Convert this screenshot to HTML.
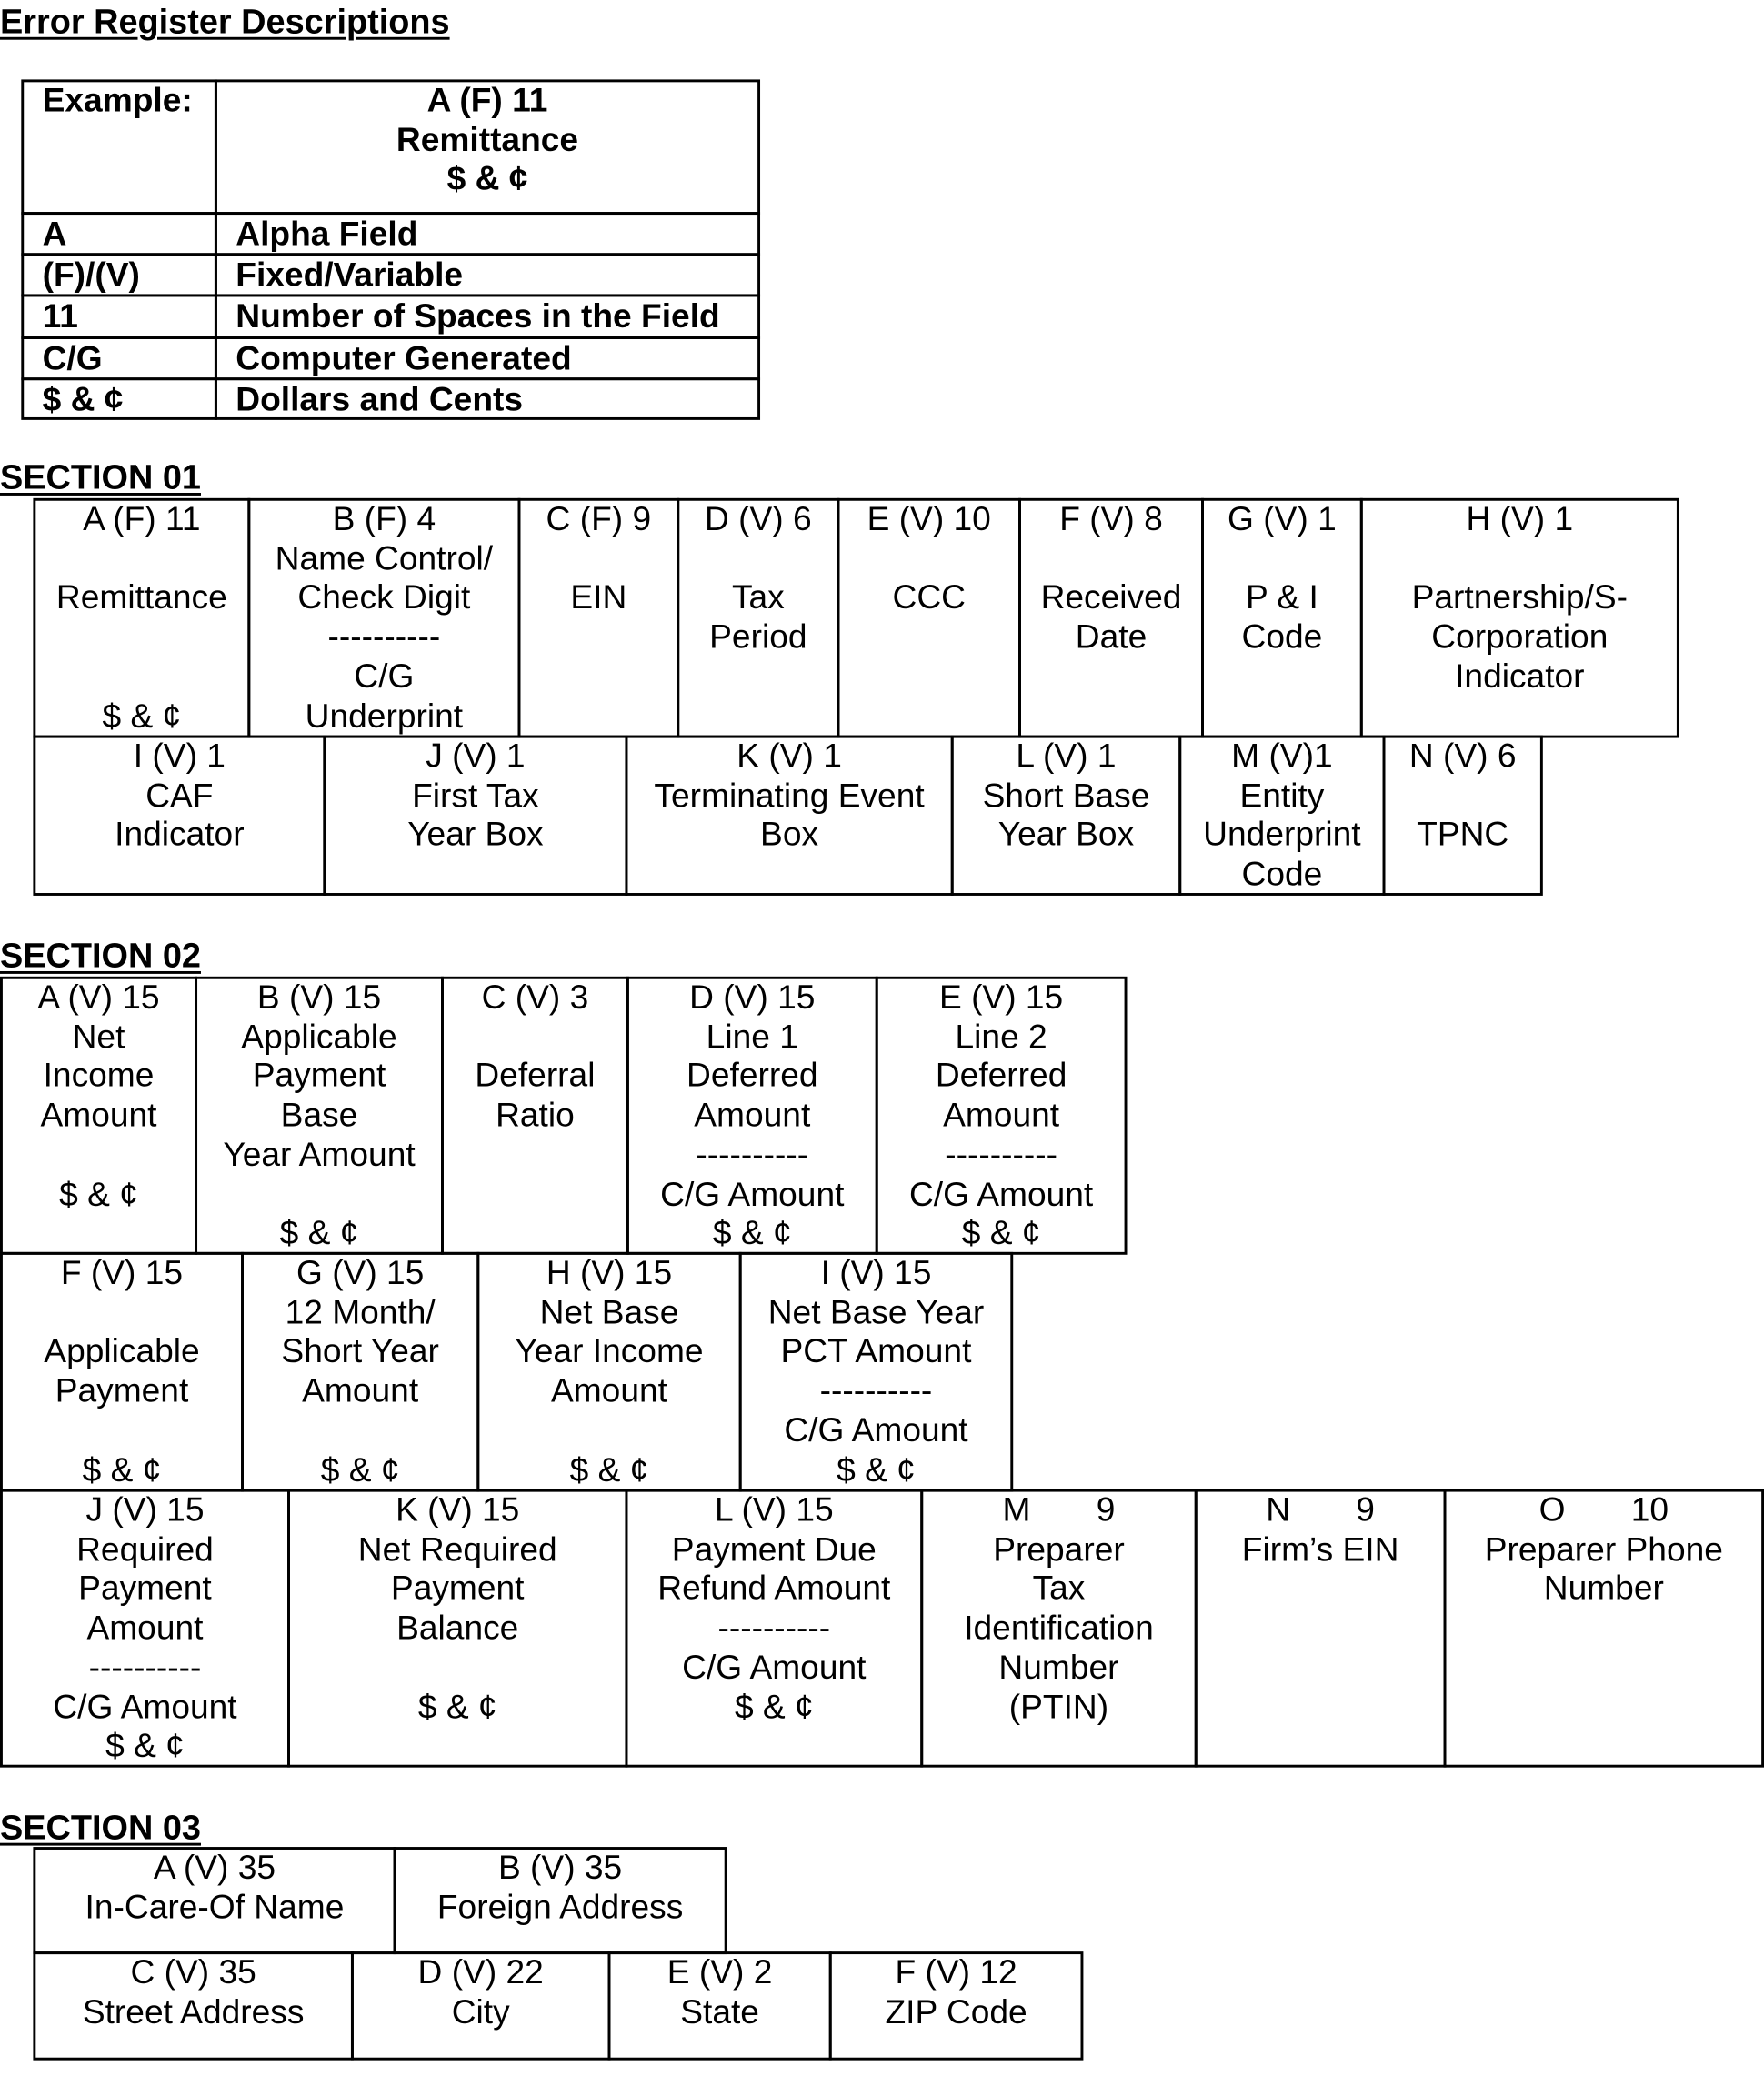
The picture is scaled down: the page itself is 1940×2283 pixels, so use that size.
<!DOCTYPE html>
<html><head><meta charset="utf-8"><style>
html,body{margin:0;padding:0;background:#fff;}
body{width:1940px;height:2283px;overflow:hidden;position:relative;}
#w{position:absolute;left:0;top:0;width:1332px;height:1567px;transform:scale(1.4565,1.457);transform-origin:0 0;font-family:"Liberation Sans",Arial,sans-serif;color:#000;}
.c{position:absolute;box-sizing:border-box;border:2px solid #000;text-align:center;font-size:25.5px;line-height:29.7px;white-space:nowrap;overflow:visible;padding-top:0;}
.h{position:absolute;left:0;font-weight:bold;font-size:26px;line-height:26px;text-decoration:underline;text-decoration-thickness:2px;text-underline-offset:3px;white-space:nowrap;}
.e{position:absolute;box-sizing:border-box;border:2px solid #000;font-weight:bold;font-size:25.5px;line-height:29.5px;padding-left:14px;white-space:nowrap;}
</style></head><body><div id="w">
<div class="h" style="top:3px;">Error Register Descriptions</div>

<div class="e" style="left:16px;top:60px;width:148px;height:102px;">Example:</div>
<div class="e" style="left:162px;top:60px;width:412px;height:102px;text-align:center;padding-left:0;">A (F) 11<br>Remittance<br>$ &amp; ¢</div>
<div class="e" style="left:16px;top:160px;width:148px;height:33px;line-height:30px;">A</div>
<div class="e" style="left:162px;top:160px;width:412px;height:33px;line-height:30px;">Alpha Field</div>
<div class="e" style="left:16px;top:191px;width:148px;height:33px;line-height:30px;">(F)/(V)</div>
<div class="e" style="left:162px;top:191px;width:412px;height:33px;line-height:30px;">Fixed/Variable</div>
<div class="e" style="left:16px;top:222px;width:148px;height:34px;line-height:30px;">11</div>
<div class="e" style="left:162px;top:222px;width:412px;height:34px;line-height:30px;">Number of Spaces in the Field</div>
<div class="e" style="left:16px;top:254px;width:148px;height:33px;line-height:30px;">C/G</div>
<div class="e" style="left:162px;top:254px;width:412px;height:33px;line-height:30px;">Computer Generated</div>
<div class="e" style="left:16px;top:285px;width:148px;height:32px;line-height:30px;">$ &amp; ¢</div>
<div class="e" style="left:162px;top:285px;width:412px;height:32px;line-height:30px;">Dollars and Cents</div>

<div class="h" style="top:347px;">SECTION 01</div>
<div class="c" style="left:25px;top:376px;width:164px;height:181px;">A (F) 11<br>&nbsp;<br>Remittance<br>&nbsp;<br>&nbsp;<br>$ &amp; ¢</div>
<div class="c" style="left:187px;top:376px;width:206px;height:181px;">B (F) 4<br>Name Control/<br>Check Digit<br>----------<br>C/G<br>Underprint</div>
<div class="c" style="left:391px;top:376px;width:122px;height:181px;">C (F) 9<br>&nbsp;<br>EIN</div>
<div class="c" style="left:511px;top:376px;width:123px;height:181px;">D (V) 6<br>&nbsp;<br>Tax<br>Period</div>
<div class="c" style="left:632px;top:376px;width:139px;height:181px;">E (V) 10<br>&nbsp;<br>CCC</div>
<div class="c" style="left:769px;top:376px;width:140px;height:181px;">F (V) 8<br>&nbsp;<br>Received<br>Date</div>
<div class="c" style="left:907px;top:376px;width:122px;height:181px;">G (V) 1<br>&nbsp;<br>P &amp; I<br>Code</div>
<div class="c" style="left:1027px;top:376px;width:241px;height:181px;">H (V) 1<br>&nbsp;<br>Partnership/S-<br>Corporation<br>Indicator</div>

<div class="c" style="left:25px;top:555px;width:221px;height:121px;">I (V) 1<br>CAF<br>Indicator</div>
<div class="c" style="left:244px;top:555px;width:230px;height:121px;">J (V) 1<br>First Tax<br>Year Box</div>
<div class="c" style="left:472px;top:555px;width:248px;height:121px;">K (V) 1<br>Terminating Event<br>Box</div>
<div class="c" style="left:718px;top:555px;width:174px;height:121px;">L (V) 1<br>Short Base<br>Year Box</div>
<div class="c" style="left:890px;top:555px;width:156px;height:121px;">M (V)1<br>Entity<br>Underprint<br>Code</div>
<div class="c" style="left:1044px;top:555px;width:121px;height:121px;">N (V) 6<br>&nbsp;<br>TPNC</div>

<div class="h" style="top:708px;">SECTION 02</div>
<div class="c" style="left:0px;top:737px;width:149px;height:210px;">A (V) 15<br>Net<br>Income<br>Amount<br>&nbsp;<br>$ &amp; ¢</div>
<div class="c" style="left:147px;top:737px;width:188px;height:210px;">B (V) 15<br>Applicable<br>Payment<br>Base<br>Year Amount<br>&nbsp;<br>$ &amp; ¢</div>
<div class="c" style="left:333px;top:737px;width:142px;height:210px;">C (V) 3<br>&nbsp;<br>Deferral<br>Ratio</div>
<div class="c" style="left:473px;top:737px;width:190px;height:210px;">D (V) 15<br>Line 1<br>Deferred<br>Amount<br>----------<br>C/G Amount<br>$ &amp; ¢</div>
<div class="c" style="left:661px;top:737px;width:190px;height:210px;">E (V) 15<br>Line 2<br>Deferred<br>Amount<br>----------<br>C/G Amount<br>$ &amp; ¢</div>

<div class="c" style="left:0px;top:945px;width:184px;height:181px;">F (V) 15<br>&nbsp;<br>Applicable<br>Payment<br>&nbsp;<br>$ &amp; ¢</div>
<div class="c" style="left:182px;top:945px;width:180px;height:181px;">G (V) 15<br>12 Month/<br>Short Year<br>Amount<br>&nbsp;<br>$ &amp; ¢</div>
<div class="c" style="left:360px;top:945px;width:200px;height:181px;">H (V) 15<br>Net Base<br>Year Income<br>Amount<br>&nbsp;<br>$ &amp; ¢</div>
<div class="c" style="left:558px;top:945px;width:207px;height:181px;">I (V) 15<br>Net Base Year<br>PCT Amount<br>----------<br>C/G Amount<br>$ &amp; ¢</div>

<div class="c" style="left:0px;top:1124px;width:219px;height:210px;">J (V) 15<br>Required<br>Payment<br>Amount<br>----------<br>C/G Amount<br>$ &amp; ¢</div>
<div class="c" style="left:217px;top:1124px;width:257px;height:210px;">K (V) 15<br>Net Required<br>Payment<br>Balance<br>&nbsp;<br>$ &amp; ¢</div>
<div class="c" style="left:472px;top:1124px;width:225px;height:210px;">L (V) 15<br>Payment Due<br>Refund Amount<br>----------<br>C/G Amount<br>$ &amp; ¢</div>
<div class="c" style="left:695px;top:1124px;width:209px;height:210px;white-space:pre;">M       9
Preparer
Tax
Identification
Number
(PTIN)</div>
<div class="c" style="left:902px;top:1124px;width:190px;height:210px;white-space:pre;">N       9
Firm’s EIN</div>
<div class="c" style="left:1090px;top:1124px;width:242px;height:210px;white-space:pre;">O       10
Preparer Phone
Number</div>

<div class="h" style="top:1366px;">SECTION 03</div>
<div class="c" style="left:25px;top:1394px;width:274px;height:81px;">A (V) 35<br>In-Care-Of Name</div>
<div class="c" style="left:297px;top:1394px;width:252px;height:81px;">B (V) 35<br>Foreign Address</div>
<div class="c" style="left:25px;top:1473px;width:242px;height:82px;">C (V) 35<br>Street Address</div>
<div class="c" style="left:265px;top:1473px;width:196px;height:82px;">D (V) 22<br>City</div>
<div class="c" style="left:459px;top:1473px;width:169px;height:82px;">E (V) 2<br>State</div>
<div class="c" style="left:626px;top:1473px;width:192px;height:82px;">F (V) 12<br>ZIP Code</div>
</div></body></html>
